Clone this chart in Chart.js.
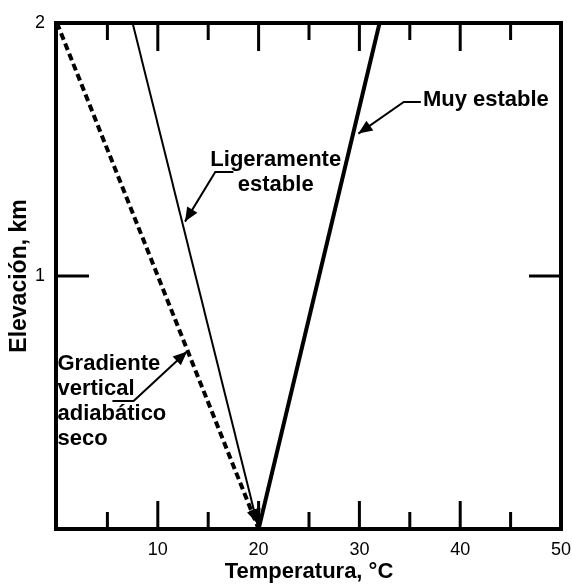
<!DOCTYPE html>
<html>
<head>
<meta charset="utf-8">
<script src="https://cdn.jsdelivr.net/npm/chart.js@4.4.1/dist/chart.umd.min.js"></script>
<style>
  html, body { margin: 0; padding: 0; background: #fff; }
  #wrap { width: 572px; height: 585px; }
</style>
</head>
<body>
<div id="wrap"><canvas id="c" width="572" height="585"></canvas></div>
<script>
// Elevation (km) at the two ends of each temperature profile
const elevationKm = [2, 0];
// Temperature (°C) at those elevations for each profile
const dryAdiabatic = [0, 20];
const slightlyStable = [7.5, 20];
const veryStable = [32, 20];

// Tick labels shown on each axis
const xTickLabels = [10, 20, 30, 40, 50];
const yTickLabels = [1, 2];
// Inward tick marks
const xMajorTicks = [10, 20, 30, 40];
const xMinorTicks = [5, 15, 25, 35, 45];
const yTicks = [1];

// Callout texts, their anchors (data units) and leader paths ending at an arrow tip
const calloutMuy = { lines: ['Muy estable'], align: 'left', x: 36.3, y: 1.696, path: [[36.1, 1.688], [34.4, 1.688], [29.9, 1.563]] };
const calloutLig = { lines: ['Ligeramente', 'estable'], align: 'center', x: 21.7, y: 1.46, path: [[17.5, 1.411], [15.7, 1.411], [12.7, 1.215]] };
const calloutGrad = { lines: ['Gradiente', 'vertical', 'adiabático', 'seco'], align: 'left', x: 0.05, y: 0.652, path: [[5.5, 0.506], [7.6, 0.506], [12.9, 0.702]] };
const callouts = [calloutMuy, calloutLig, calloutGrad];

const FONT = '"Liberation Sans", Arial, Helvetica, sans-serif';
Chart.defaults.font.family = FONT;
Chart.defaults.color = '#000';

const toPoints = (temps) => temps.map((t, i) => ({ x: t, y: elevationKm[i] }));

function arrowHead(ctx, fromX, fromY, tipX, tipY, len, half) {
  const a = Math.atan2(tipY - fromY, tipX - fromX);
  const bx = tipX - len * Math.cos(a), by = tipY - len * Math.sin(a);
  ctx.beginPath();
  ctx.moveTo(tipX, tipY);
  ctx.lineTo(bx + half * Math.sin(a), by - half * Math.cos(a));
  ctx.lineTo(bx - half * Math.sin(a), by + half * Math.cos(a));
  ctx.closePath();
  ctx.fill();
}

const framePlugin = {
  id: 'frame',
  afterDatasetsDraw(chart) {
    const { ctx, chartArea: a, scales: { x, y } } = chart;
    ctx.save();
    ctx.strokeStyle = '#000';
    ctx.fillStyle = '#000';
    ctx.setLineDash([]);
    // box
    ctx.lineWidth = 4;
    ctx.strokeRect(a.left - 1, a.top, a.right - a.left + 1, a.bottom - a.top);
    // inward ticks
    ctx.lineWidth = 3;
    const tick = (x1, y1, x2, y2) => { ctx.beginPath(); ctx.moveTo(x1, y1); ctx.lineTo(x2, y2); ctx.stroke(); };
    xMajorTicks.forEach(v => { const px = x.getPixelForValue(v); tick(px, a.top, px, a.top + 28); tick(px, a.bottom, px, a.bottom - 28); });
    xMinorTicks.forEach(v => { const px = x.getPixelForValue(v); tick(px, a.top, px, a.top + 17); tick(px, a.bottom, px, a.bottom - 17); });
    yTicks.forEach(v => { const py = y.getPixelForValue(v); tick(a.left, py, a.left + 32, py); tick(a.right, py, a.right - 32, py); });

    // arrowheads at the lower end of the unstable and slightly stable profiles
    [0, 1].forEach(i => {
      const d = chart.data.datasets[i].data;
      const p0 = d[d.length - 2], p1 = d[d.length - 1];
      arrowHead(ctx, x.getPixelForValue(p0.x), y.getPixelForValue(p0.y),
        x.getPixelForValue(p1.x), y.getPixelForValue(p1.y) - 4, 16, 6);
    });

    // callouts
    ctx.font = 'bold 22px ' + FONT;
    ctx.textBaseline = 'middle';
    callouts.forEach(c => {
      ctx.textAlign = c.align;
      const tx = x.getPixelForValue(c.x), ty = y.getPixelForValue(c.y);
      c.lines.forEach((s, k) => ctx.fillText(s, tx, ty + k * 25));
      const pts = c.path.map(p => [x.getPixelForValue(p[0]), y.getPixelForValue(p[1])]);
      ctx.lineWidth = 2;
      ctx.beginPath();
      pts.forEach((p, k) => k ? ctx.lineTo(p[0], p[1]) : ctx.moveTo(p[0], p[1]));
      ctx.stroke();
      const n = pts.length;
      arrowHead(ctx, pts[n - 2][0], pts[n - 2][1], pts[n - 1][0], pts[n - 1][1], 14, 6);
    });
    ctx.restore();
  }
};

new Chart(document.getElementById('c'), {
  type: 'scatter',
  data: {
    datasets: [
      { label: 'Gradiente vertical adiabático seco', data: toPoints(dryAdiabatic), showLine: true,
        borderColor: '#000', borderWidth: 4, borderDash: [7, 4], pointRadius: 0, fill: false },
      { label: 'Ligeramente estable', data: toPoints(slightlyStable), showLine: true,
        borderColor: '#000', borderWidth: 2, pointRadius: 0, fill: false },
      { label: 'Muy estable', data: toPoints(veryStable), showLine: true,
        borderColor: '#000', borderWidth: 4, pointRadius: 0, fill: false }
    ]
  },
  options: {
    responsive: false,
    animation: false,
    layout: { padding: { top: 23, right: 11, left: 6, bottom: 0 } },
    plugins: { legend: { display: false }, tooltip: { enabled: false } },
    scales: {
      x: {
        type: 'linear', min: 0, max: 50,
        ticks: { stepSize: 5, autoSkip: false, maxRotation: 0, padding: 10,
          font: { size: 18 }, color: '#000',
          callback: v => xTickLabels.includes(v) ? String(v) : '' },
        grid: { display: false, drawTicks: false },
        border: { display: false },
        title: { display: true, text: 'Temperatura, °C', color: '#000', padding: 0,
          font: { size: 22, weight: 'bold' } },
        afterFit: s => { s.height = 56; s.paddingLeft = 0; s.paddingRight = 0; }
      },
      y: {
        type: 'linear', min: 0, max: 2,
        ticks: { stepSize: 0.5, autoSkip: false, padding: 12,
          font: { size: 18 }, color: '#000',
          callback: v => yTickLabels.includes(v) ? String(v) : '' },
        grid: { display: false, drawTicks: false },
        border: { display: false },
        title: { display: true, text: 'Elevación, km', color: '#000', padding: 0,
          font: { size: 23, weight: 'bold' } },
        afterFit: s => { s.width = 51; s.paddingTop = 0; s.paddingBottom = 0; }
      }
    }
  },
  plugins: [framePlugin]
});
</script>
</body>
</html>
